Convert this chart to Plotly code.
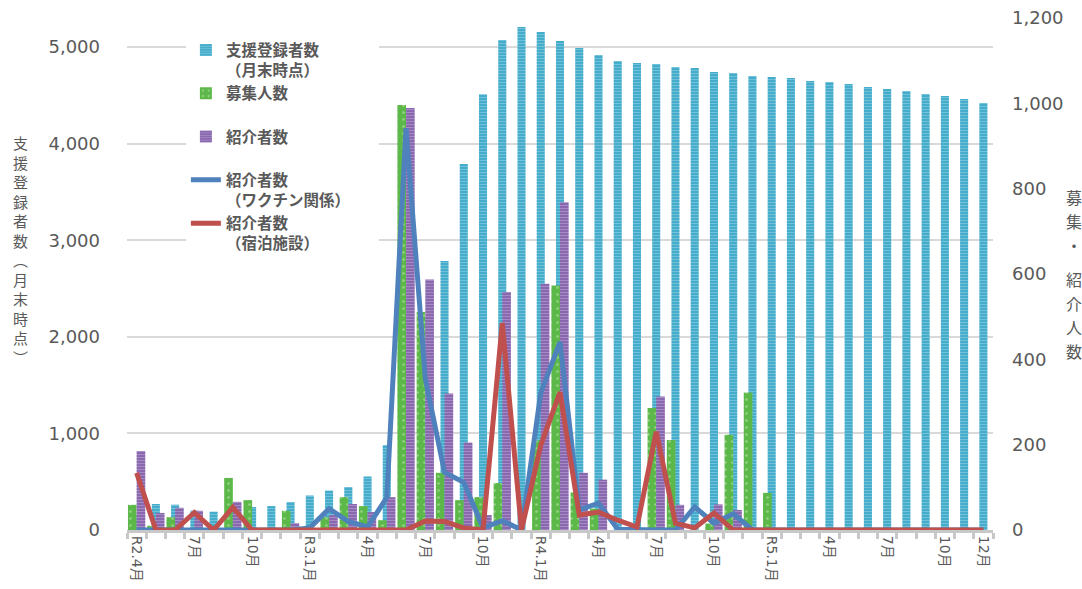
import plotly.graph_objects as go

# ---- data -------------------------------------------------------------
months = [
    "R2.4月", "R2.5月", "R2.6月", "R2.7月", "R2.8月", "R2.9月", "R2.10月", "R2.11月", "R2.12月",
    "R3.1月", "R3.2月", "R3.3月", "R3.4月", "R3.5月", "R3.6月", "R3.7月", "R3.8月", "R3.9月",
    "R3.10月", "R3.11月", "R3.12月",
    "R4.1月", "R4.2月", "R4.3月", "R4.4月", "R4.5月", "R4.6月", "R4.7月", "R4.8月", "R4.9月",
    "R4.10月", "R4.11月", "R4.12月",
    "R5.1月", "R5.2月", "R5.3月", "R5.4月", "R5.5月", "R5.6月", "R5.7月", "R5.8月", "R5.9月",
    "R5.10月", "R5.11月", "R5.12月",
]
tick_labels = [
    "R2.4月", "", "", "7月", "", "", "10月", "", "",
    "R3.1月", "", "", "4月", "", "", "7月", "", "",
    "10月", "", "",
    "R4.1月", "", "", "4月", "", "", "7月", "", "",
    "10月", "", "",
    "R5.1月", "", "", "4月", "", "", "7月", "", "",
    "10月", "", "12月",
]
# 支援登録者数（月末時点） – left axis
registered = [150, 269, 262, 200, 190, 200, 238, 248, 290,
              357, 409, 445, 554, 880, 1500, 2200, 2785, 3789,
              4510, 5072, 5207,
              5155, 5062, 4990, 4917, 4855, 4834, 4824, 4793, 4783,
              4741, 4731, 4700,
              4690, 4679, 4648, 4638, 4617, 4586, 4565, 4545, 4513,
              4493, 4462, 4420]
# 募集人数 – right axis
recruited = [59, 10, 30, 0, 0, 122, 70, 0, 45,
             5, 30, 77, 56, 23, 996, 511, 134, 70,
             77, 110, 0,
             210, 573, 88, 50, 0, 0, 286, 211, 0,
             15, 223, 322,
             87, 0, 0, 0, 0, 0, 0, 0, 0,
             0, 0, 0]
# 紹介者数 – right axis
introduced = [185, 40, 52, 45, 0, 66, 0, 0, 16,
              0, 35, 61, 42, 77, 989, 587, 320, 205,
              35, 558, 0,
              577, 768, 134, 118, 0, 0, 313, 59, 0,
              60, 47, 0,
              0, 0, 0, 0, 0, 0, 0, 0, 0,
              0, 0, 0]
# 紹介者数（ワクチン関係）
intro_vaccine = [0, 0, 0, 0, 0, 0, 0, 0, 0,
                 5, 50, 20, 7, 76, 942, 355, 135, 112,
                 5, 22, 0,
                 321, 441, 47, 63, 2, 0, 0, 0, 54,
                 16, 38, 0,
                 0, 0, 0, 0, 0, 0, 0, 0, 0,
                 0, 0, 0]
# 紹介者数（宿泊施設）
intro_hotel = [134, 0, 0, 41, 0, 53, 0, 0, 0,
               0, 0, 0, 0, 0, 0, 21, 20, 5,
               0, 485, 0,
               199, 323, 35, 42, 23, 7, 230, 16, 5,
               40, 0, 0,
               0, 0, 0, 0, 0, 0, 0, 0, 0,
               0, 0, 0]
left_ticks = [0, 1000, 2000, 3000, 4000, 5000]
right_ticks = [0, 200, 400, 600, 800, 1000, 1200]
left_title_chars = ["支", "援", "登", "録", "者", "数", "︵", "月", "末", "時", "点", "︶"]
right_title_chars = ["募", "集", "・", "紹", "介", "人", "数"]

# ---- styling ----------------------------------------------------------
CJK = "Noto Sans CJK JP"
NUM = "DejaVu Sans, Noto Sans CJK JP"
GRAY = "#595959"
BLANK = "<br>\u3000"   # keeps one-line legend entries two lines tall

fig = go.Figure()
fig.add_trace(go.Bar(
    x=months, y=registered, name="支援登録者数<br>（月末時点）", yaxis="y",
    width=0.42, offset=-0.21, legendgroup="g1",
    marker=dict(color="#45ADCB", line_width=0,
                pattern=dict(shape="-", fgcolor="#A6DCEC", size=3, solidity=0.3, fillmode="overlay")),
))
fig.add_trace(go.Bar(
    x=months, y=recruited, name="募集人数" + BLANK, yaxis="y2",
    width=0.45, offset=-0.45, legendgroup="g2",
    marker=dict(color="#5DB84A", line_width=0,
                pattern=dict(shape=".", fgcolor="#C9E8BD", size=7, solidity=0.12, fillmode="overlay")),
))
fig.add_trace(go.Bar(
    x=months, y=introduced, name="紹介者数" + BLANK, yaxis="y2",
    width=0.45, offset=0.0, legendgroup="g3",
    marker=dict(color="#8A68B0", line_width=0,
                pattern=dict(shape="-", fgcolor="#C7B5DA", size=3, solidity=0.3, fillmode="overlay")),
))
fig.add_trace(go.Scatter(
    x=months, y=intro_vaccine, name="紹介者数<br>（ワクチン関係）\u3000\u3000", yaxis="y2",
    mode="lines", line=dict(color="#4F81BD", width=5), legendgroup="g4",
))
fig.add_trace(go.Scatter(
    x=months, y=intro_hotel, name="紹介者数<br>（宿泊施設）", yaxis="y2",
    mode="lines", line=dict(color="#C0504D", width=5), legendgroup="g5",
))

# vertical (tategaki) right axis title, one upright character per annotation
annotations = [
    dict(text="<br>".join(left_title_chars), xref="paper", yref="paper",
         x=(20 - 127) / 866, y=(530 - 250) / 512, xanchor="center", yanchor="middle",
         showarrow=False, font=dict(family=CJK, size=15, color=GRAY)),
]
py = 197.0
for k, ch in enumerate(right_title_chars):
    annotations.append(dict(
        text=ch, xref="paper", yref="paper",
        x=(1064 - 127) / 866, y=(530 - py) / 512, xanchor="left", yanchor="middle",
        showarrow=False, font=dict(family=CJK, size=16, color=GRAY)))
    py += 24 + (10 if ch == "・" else 0)

fig.update_layout(
    width=1082, height=589,
    margin=dict(l=127, r=89, t=18, b=59, autoexpand=False),
    plot_bgcolor="white", paper_bgcolor="white",
    barmode="overlay",
    xaxis=dict(
        type="category", categoryorder="array", categoryarray=months,
        tickmode="array", tickvals=months, ticktext=tick_labels,
        tickangle=90, tickson="boundaries", ticks="outside",
        ticklen=6, tickwidth=3, tickcolor="#C8C8C8",
        showline=True, linecolor="#C8C8C8", linewidth=3,
        showgrid=False, range=[-0.5, len(months) - 0.5],
        tickfont=dict(family=NUM, size=14, color=GRAY),
    ),
    yaxis=dict(
        range=[0, 5300], tickmode="array", tickvals=left_ticks, tickformat=",d",
        showgrid=True, gridcolor="#D9D9D9", gridwidth=1.5, zeroline=False,
        showline=False, ticks="", ticklabelstandoff=26,
        tickfont=dict(family=NUM, size=18, color=GRAY),
    ),
    yaxis2=dict(
        overlaying="y", side="right", range=[0, 1200], tickmode="array",
        tickvals=right_ticks, tickformat=",d", showgrid=False, zeroline=False,
        showline=False, ticks="", ticklabelstandoff=18,
        tickfont=dict(family=NUM, size=18, color=GRAY),
    ),
    legend=dict(
        x=0.068, y=0.97, xanchor="left", yanchor="top",
        bgcolor="white", borderwidth=0, tracegroupgap=0, valign="top",
        traceorder="grouped",
        font=dict(family=CJK, size=15.5, color=GRAY, weight="bold"),
    ),
    showlegend=True,
    annotations=annotations,
)

fig.write_html("out.html", config={"displayModeBar": False},
               post_script="document.body.style.margin='0';")
